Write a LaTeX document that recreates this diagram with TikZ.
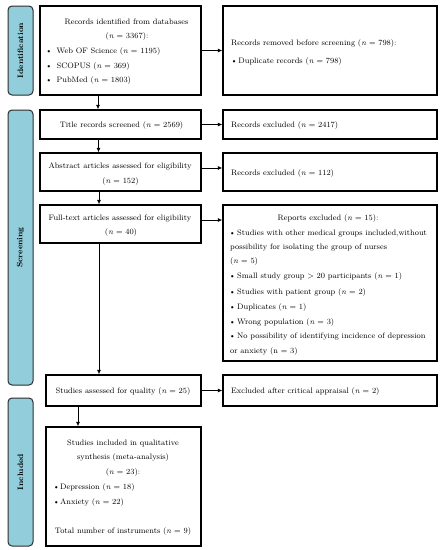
\documentclass[tikz,border=0pt]{standalone}
\usetikzlibrary{arrows.meta}
\definecolor{barblue}{RGB}{146,205,220}
\definecolor{bardraw}{RGB}{45,45,45}
\begin{document}
\begin{tikzpicture}[x=1pt,y=-1pt,
  box/.style={draw=black, line width=1.4pt, fill=white, inner sep=0pt},
  bar/.style={draw=bardraw, line width=1pt, fill=barblue, rounded corners=4pt, inner sep=0pt, minimum width=25pt},
  barlabel/.style={rotate=90, font=\fontsize{7.8}{9}\selectfont\bfseries, inner sep=0pt},
  txt/.style={font=\fontsize{7.9}{10}\selectfont, inner sep=0pt, text height=6pt, text depth=2pt},
  tw/.style={txt, anchor=west},
  arr/.style={draw=black, line width=0.7pt, -{Latex[length=4.5pt,width=4pt]}}
]
\useasboundingbox (0,0) rectangle (442,550);
\fill[white] (0,0) rectangle (442,550);

% side bars
\node[bar, minimum height=89pt] (idbar) at (20.5,50.5) {};
\node[bar, minimum height=275pt] (scrbar) at (20.5,247.5) {};
\node[bar, minimum height=148pt] (incbar) at (20.5,472) {};
\node[barlabel] (idlab) at (20.5,50.5) {Identification};
\node[barlabel] (scrlab) at (20.5,247.5) {Screening};
\node[barlabel] (inclab) at (20.5,472) {Included};

% boxes
\node[box, minimum width=161pt, minimum height=89pt] (b1) at (120.5,50.5) {};
\node[box, minimum width=214pt, minimum height=89pt] (b2) at (330,50.5) {};
\node[box, minimum width=161pt, minimum height=29pt] (title) at (120.5,124.5) {};
\node[box, minimum width=214pt, minimum height=29pt] (ex1) at (330,124.5) {};
\node[box, minimum width=161pt, minimum height=38pt] (abs) at (120.5,172) {};
\node[box, minimum width=214pt, minimum height=38pt] (ex2) at (330,172) {};
\node[box, minimum width=161pt, minimum height=38pt] (full) at (120.5,224) {};
\node[box, minimum width=214pt, minimum height=156pt] (rep) at (330,283) {};
\node[box, minimum width=155pt, minimum height=31pt] (qual) at (123.5,390.5) {};
\node[box, minimum width=214pt, minimum height=31pt] (ex3) at (330,390.5) {};
\node[box, minimum width=155pt, minimum height=119pt] (inc) at (123.5,486.5) {};

% texts box 1
\node[txt] (t1a) at (126.5,22) {Records identified from databases};
\node[txt] (t1b) at (127,36) {(\textit{n} = 3367):};
\node[tw] (t1c) at (45.5,51) {\makebox[11pt][l]{\textbullet}Web OF Science (\textit{n} = 1195)};
\node[tw] (t1d) at (45.5,66) {\makebox[11pt][l]{\textbullet}SCOPUS (\textit{n} = 369)};
\node[tw] (t1e) at (45.5,80) {\makebox[11pt][l]{\textbullet}PubMed (\textit{n} = 1803)};

% box 2
\node[tw] (t2a) at (231,43) {Records removed before screening (\textit{n} = 798):};
\node[tw] (t2b) at (230.6,61) {\makebox[7.7pt][l]{\textbullet}Duplicate records (\textit{n} = 798)};

% title / excluded
\node[txt] (t3) at (121.5,125) {Title records screened (\textit{n} = 2569)};
\node[tw] (t4) at (231,125) {Records excluded (\textit{n} = 2417)};

% abstract
\node[txt] (t5a) at (120,166) {Abstract articles assessed for eligibility};
\node[txt] (t5b) at (120.5,181) {(\textit{n} = 152)};
\node[tw] (t6) at (231,173) {Records excluded (\textit{n} = 112)};

% full text
\node[txt] (t7a) at (120,218) {Full-text articles assessed for eligibility};
\node[txt] (t7b) at (121,232) {(\textit{n} = 40)};

% reports excluded
\node[txt] (r0) at (328,218) {Reports excluded (\textit{n} = 15):};
\node[tw] (r1) at (229,233) {\makebox[8pt][l]{\textbullet}Studies with other medical groups included,without};
\node[tw] (r1b) at (230,247) {possibility for isolating the group of nurses};
\node[tw] (r1c) at (230,261) {(\textit{n} = 5)};
\node[tw] (r2) at (229,276) {\makebox[8pt][l]{\textbullet}Small study group > 20 participants (\textit{n} = 1)};
\node[tw] (r3) at (229,292) {\makebox[8pt][l]{\textbullet}Studies with patient group (\textit{n} = 2)};
\node[tw] (r4) at (229,307) {\makebox[8pt][l]{\textbullet}Duplicates (\textit{n} = 1)};
\node[tw] (r5) at (229,322) {\makebox[8pt][l]{\textbullet}Wrong population (\textit{n} = 3)};
\node[tw] (r6) at (229,336) {\makebox[8pt][l]{\textbullet}No possibility of identifying incidence of depression};
\node[tw] (r6b) at (230,351) {or anxiety (n = 3)};

% quality
\node[txt] (t8) at (123,391) {Studies assessed for quality (\textit{n} = 25)};
\node[tw] (t9) at (231,391) {Excluded after critical appraisal (\textit{n} = 2)};

% included
\node[txt] (i1) at (123,443) {Studies included in qualitative};
\node[txt] (i2) at (123,457) {synthesis (meta-analysis)};
\node[txt] (i3) at (123,472) {(\textit{n} = 23):};
\node[tw] (i4) at (53,487) {\makebox[7pt][l]{\textbullet}Depression (\textit{n} = 18)};
\node[tw] (i5) at (53,502) {\makebox[7pt][l]{\textbullet}Anxiety (\textit{n} = 22)};
\node[txt] (i6) at (123,531) {Total number of instruments (\textit{n} = 9)};

% vertical arrows
\draw[arr] ([xshift=-22.5pt]b1.south) -- ([xshift=-22.5pt]title.north);
\draw[arr] ([xshift=-22pt]title.south) -- ([xshift=-22pt]abs.north);
\draw[arr] ([xshift=-21.5pt]abs.south) -- ([xshift=-21.5pt]full.north);
\draw[arr] ([xshift=-21.5pt]full.south) -- ([xshift=-24.5pt]qual.north);
\draw[arr] ([xshift=-45.5pt]qual.south) -- ([xshift=-45.5pt]inc.north);

% horizontal arrows
\draw[arr] (b1.east) -- (b2.west);
\draw[arr] (title.east) -- (ex1.west);
\draw[arr] ([yshift=4pt]abs.east) -- ([yshift=4pt]ex2.west);
\draw[arr] ([yshift=4pt]full.east) -- ([yshift=63pt]rep.west);
\draw[arr] (qual.east) -- (ex3.west);
\end{tikzpicture}
\end{document}
